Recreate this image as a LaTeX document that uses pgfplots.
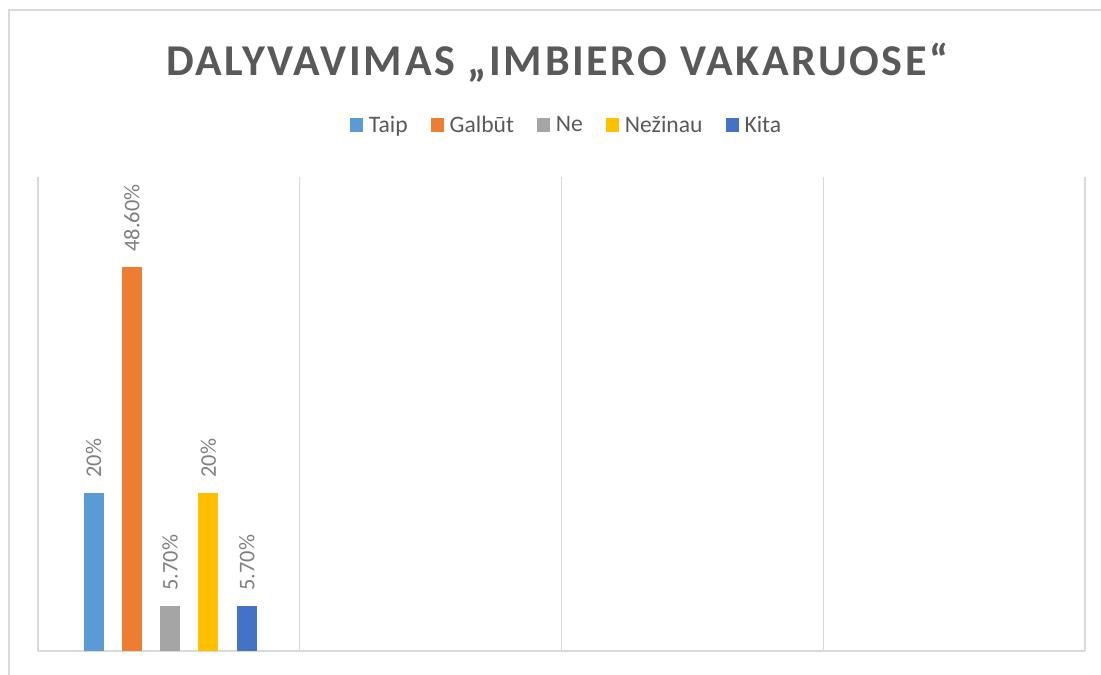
\documentclass[border=0pt]{standalone}
\usepackage{fontspec}
\setmainfont{Carlito}
\newfontfamily\titlefont[LetterSpace=6.0]{Carlito}
\usepackage{pgfplots}
\pgfplotsset{compat=1.18}
\definecolor{cTaip}{HTML}{5B9BD5}
\definecolor{cGalbut}{HTML}{ED7D31}
\definecolor{cNe}{HTML}{A5A5A5}
\definecolor{cNezinau}{HTML}{FFC000}
\definecolor{cKita}{HTML}{4472C4}
\definecolor{txtgray}{HTML}{595959}
\definecolor{lblgray}{HTML}{7F7F7F}
\definecolor{gridgray}{HTML}{D9D9D9}
\begin{document}
\begin{tikzpicture}
\useasboundingbox (-28.5pt,-18pt) rectangle (797.25pt,488.25pt);
\draw[gridgray, line width=1.1pt] (-21.75pt,-30pt) -- (-21.75pt,480.75pt) -- (810pt,480.75pt);
\begin{axis}[
  scale only axis,
  width=785.25pt, height=355.5pt,
  xmin=0, xmax=4, ymin=0, ymax=60,
  xtick={0,1,2,3,4}, xticklabels={},
  ytick=\empty,
  major tick length=0pt,
  xmajorgrids,
  grid style={gridgray, line width=0.9pt},
  axis x line*=bottom, axis y line*=left,
  axis line style={gridgray, line width=0.9pt, -},
  ybar=13.7pt, bar width=15pt,
  point meta=explicit symbolic,
  nodes near coords,
  nodes near coords style={rotate=90, anchor=west, font=\fontsize{16.8}{18}\selectfont, text=lblgray, inner xsep=11.5pt},
  title={\titlefont\bfseries\fontsize{33}{38}\selectfont DALYVAVIMAS „IMBIERO VAKARUOSE“},
  title style={at={(0.496,1.225)}, anchor=center, text=txtgray},
  legend columns=-1,
  legend style={at={(0.504,1.1097)}, anchor=center, draw=none, fill=none,
    font=\fontsize{17.7}{20}\selectfont, text=txtgray,
    nodes={inner xsep=0pt},
    /tikz/every odd column/.append style={column sep=4.2pt},
    /tikz/every even column/.append style={column sep=17.5pt}},
  legend image code/.code={\fill[#1, draw=none] (0pt,-4.9pt) rectangle (9.8pt,4.9pt);},
]
\addplot[fill=cTaip, draw=none] coordinates {(0.505,20) [20\%]};
\addlegendentry{Taip}
\addplot[fill=cGalbut, draw=none] coordinates {(0.505,48.6) [48.60\%]};
\addlegendentry{Galbūt}
\addplot[fill=cNe, draw=none] coordinates {(0.505,5.7) [5.70\%]};
\addlegendentry{Ne}
\addplot[fill=cNezinau, draw=none] coordinates {(0.505,20) [20\%]};
\addlegendentry{Nežinau}
\addplot[fill=cKita, draw=none] coordinates {(0.505,5.7) [5.70\%]};
\addlegendentry{Kita}
\end{axis}
\end{tikzpicture}
\end{document}
